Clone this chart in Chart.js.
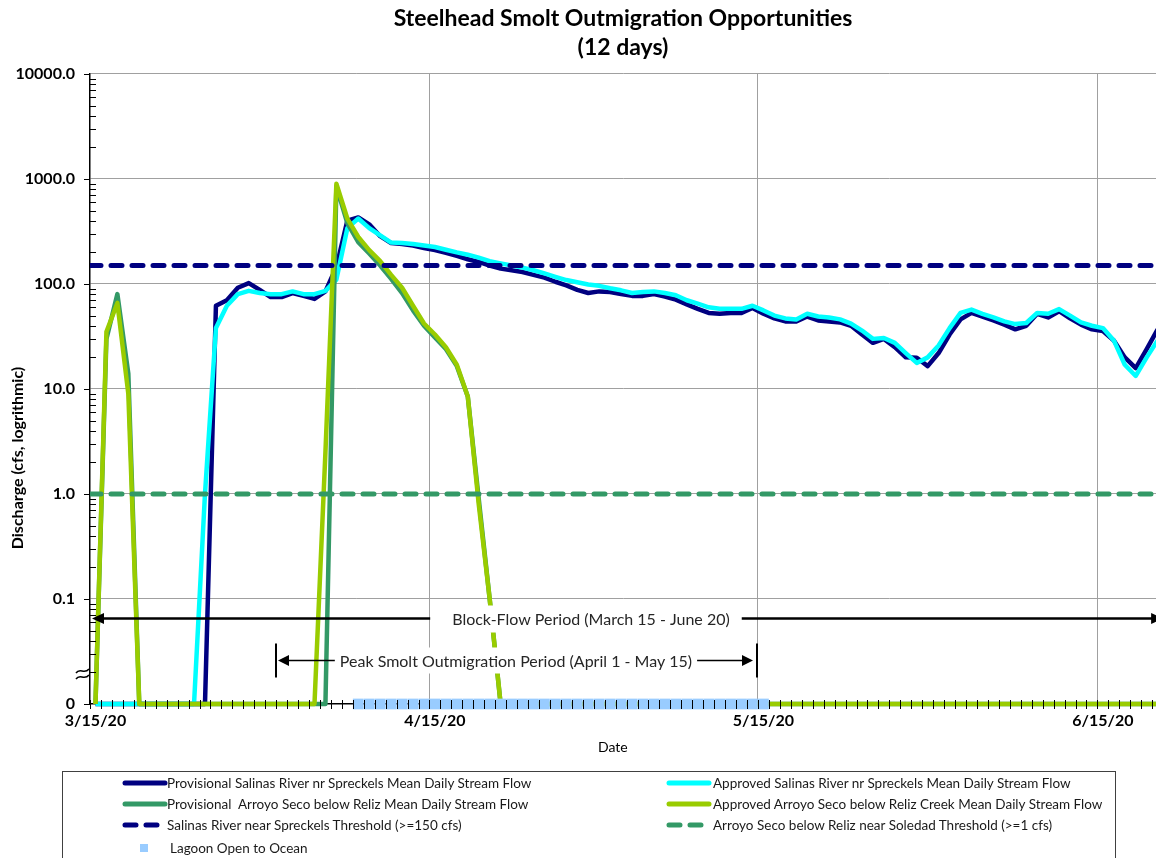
<!DOCTYPE html>
<html>
<head>
<meta charset="utf-8">
<title>Steelhead Smolt Outmigration Opportunities</title>
<script src="https://cdn.jsdelivr.net/npm/chart.js@4.4.1/dist/chart.umd.min.js"></script>
<style>
  body { margin: 0; background: #fff; }
  #wrap { position: relative; width: 1156px; height: 858px; overflow: hidden; background: #fff; }
  #chart { position: absolute; left: 0; top: 0; }
  #legendBox { position: absolute; left: 62px; top: 771px; width: 1054px; height: 120px; border: 1px solid #404040; box-sizing: border-box; }
  .lg { position: absolute; height: 16px; line-height: 16px; font: 13.5px Lato, sans-serif; color: #1a1a1a; white-space: pre; }
  .lg canvas { position: absolute; left: 0; top: 3px; }
  .lg span { position: absolute; top: 0; }
</style>
</head>
<body>
<div id="wrap">
  <canvas id="chart" width="1156" height="858"></canvas>
  <div id="legendBox"></div>
</div>
<script>
// daily values, one per day starting 3/15/20 (index 0) through 6/20/20 (index 97)
var provSalinas = [
  0, 0, 0, 0, 0, 0, 0, 0, 0, 0,
  0, 62, 70, 92, 102, 88, 75, 75, 82, 77,
  72, 85, 145, 400, 430, 370, 285, 245, 240, 232,
  220, 210, 198, 185, 172, 162, 150, 140, 135, 130,
  122, 115, 105, 97, 88, 82, 85, 84, 80, 77,
  77, 80, 76, 71, 64, 58, 53, 52, 53, 53,
  59, 52, 47, 44, 44, 49, 45, 44, 43, 40,
  33, 27.5, 30, 25, 20, 19.8, 16.5, 22, 33, 46,
  53, 49, 45, 41, 37, 40, 52, 48, 55, 47,
  41, 37, 35.6, 29, 20, 15.8, 24, 37
];
var apprSalinas = [
  0, 0, 0, 0, 0, 0, 0, 0, 0, 0,
  1.0, 38, 62, 80, 86, 82, 80, 80, 85, 80,
  80, 86, 110, 340, 420, 340, 290, 248, 245, 240,
  232, 225, 212, 200, 190, 178, 165, 157, 150, 143,
  135, 126, 117, 109, 104, 99, 96, 91, 87, 82,
  84, 85, 82, 78, 70, 65, 60, 58, 58, 58,
  62, 56, 50, 47, 46, 52, 49, 48, 46, 42,
  36, 30, 30.6, 27.5, 22, 17.7, 20, 26, 38, 53,
  57, 52, 48, 44, 41.5, 42.5, 53, 52, 57.6, 50,
  43, 40, 38, 29, 17, 13.3, 20, 29
];
var provArroyo = [
  0, 30, 80, 14, 0, 0, 0, 0, 0, 0,
  0, 0, 0, 0, 0, 0, 0, 0, 0, 0,
  0, 0, 850, 380, 250, 195, 150, 112, 82, 56,
  40, 31, 24, 16.5, 8.5, 0.9, 0.1, 0, 0, 0,
  0, 0, 0, 0, 0, 0, 0, 0, 0, 0,
  0, 0, 0, 0, 0, 0, 0, 0, 0, 0,
  0, 0, 0, 0, 0, 0, 0, 0, 0, 0,
  0, 0, 0, 0, 0, 0, 0, 0, 0, 0,
  0, 0, 0, 0, 0, 0, 0, 0, 0, 0,
  0, 0, 0, 0, 0, 0, 0, 0
];
var apprArroyo = [
  0, 35, 66, 9, 0, 0, 0, 0, 0, 0,
  0, 0, 0, 0, 0, 0, 0, 0, 0, 0,
  0, 2.5, 900, 420, 280, 210, 165, 122, 92, 62,
  42, 33, 25, 17, 8.5, 0.8, 0.1, 0, 0, 0,
  0, 0, 0, 0, 0, 0, 0, 0, 0, 0,
  0, 0, 0, 0, 0, 0, 0, 0, 0, 0,
  0, 0, 0, 0, 0, 0, 0, 0, 0, 0,
  0, 0, 0, 0, 0, 0, 0, 0, 0, 0,
  0, 0, 0, 0, 0, 0, 0, 0, 0, 0,
  0, 0, 0, 0, 0, 0, 0, 0
];
// 1 = lagoon open to ocean that day
var lagoonOpen = [
  0, 0, 0, 0, 0, 0, 0, 0, 0, 0,
  0, 0, 0, 0, 0, 0, 0, 0, 0, 0,
  0, 0, 0, 0, 1, 1, 1, 1, 1, 1,
  1, 1, 1, 1, 1, 1, 1, 1, 1, 1,
  1, 1, 1, 1, 1, 1, 1, 1, 1, 1,
  1, 1, 1, 1, 1, 1, 1, 1, 1, 1,
  1, 1, 0, 0, 0, 0, 0, 0, 0, 0,
  0, 0, 0, 0, 0, 0, 0, 0, 0, 0,
  0, 0, 0, 0, 0, 0, 0, 0, 0, 0,
  0, 0, 0, 0, 0, 0, 0, 0
];
var salinasThreshold = 150;
var arroyoThreshold = 1;

// date axis: day offsets from 3/15/20 and their labels
var tickDays = [0, 31, 61, 92];
var tickLabels = ['3/15/20', '4/15/20', '5/15/20', '6/15/20'];
var peakStartDay = 17;   // April 1
var peakEndDay = 61;     // May 15
var lastDay = 98;        // end of June 20

var ZERO = 0.01;         // where "0" sits on the log axis
var xMax = 97.35;
var FONT = 'Lato';

function toPoints(arr) {
  return arr.map(function(v, i) { return { x: i + 0.5, y: v === 0 ? ZERO : v }; });
}
function isDecade(v) {
  var l = Math.log10(v);
  return Math.abs(l - Math.round(l)) < 1e-6;
}

var yTicks = [];
for (var k = -2; k <= 3; k++) {
  for (var m = 1; m <= 9; m++) yTicks.push(+(m * Math.pow(10, k)).toPrecision(3));
}
yTicks.push(10000);
var dayTicks = [];
for (var d = 0; d <= Math.floor(xMax); d++) dayTicks.push(d);

var datasets = [
  { label: 'Lagoon Open to Ocean', order: 0,
    data: lagoonOpen.map(function(v, i) { return { x: i + 0.5, y: v ? ZERO : null }; }),
    showLine: false, pointStyle: 'rect', pointRadius: 7.6, pointBackgroundColor: '#99CCFF',
    pointBorderWidth: 0, borderColor: '#99CCFF', backgroundColor: '#99CCFF', clip: 10 },
  { label: 'Salinas River near Spreckels Threshold (>=150 cfs)', order: 1,
    data: [{ x: 0, y: salinasThreshold }, { x: xMax, y: salinasThreshold }],
    borderColor: '#000080', borderWidth: 5, borderDash: [11, 10], borderCapStyle: 'round',
    pointRadius: 0, dash: true },
  { label: 'Arroyo Seco below Reliz near Soledad Threshold (>=1 cfs)', order: 2,
    data: [{ x: 0, y: arroyoThreshold }, { x: xMax, y: arroyoThreshold }],
    borderColor: '#339966', borderWidth: 5, borderDash: [11, 10], borderCapStyle: 'round',
    pointRadius: 0, dash: true },
  { label: 'Approved Arroyo Seco below Reliz Creek Mean Daily Stream Flow', order: 3,
    data: toPoints(apprArroyo), borderColor: '#99CC00', borderWidth: 4.5, pointRadius: 0, clip: 10 },
  { label: 'Provisional  Arroyo Seco below Reliz Mean Daily Stream Flow', order: 4,
    data: toPoints(provArroyo), borderColor: '#339966', borderWidth: 4.5, pointRadius: 0, clip: 10 },
  { label: 'Approved Salinas River nr Spreckels Mean Daily Stream Flow', order: 5,
    data: toPoints(apprSalinas), borderColor: '#00FFFF', borderWidth: 4.5, pointRadius: 0, clip: 10 },
  { label: 'Provisional Salinas River nr Spreckels Mean Daily Stream Flow', order: 6,
    data: toPoints(provSalinas), borderColor: '#000080', borderWidth: 4.5, pointRadius: 0, clip: 10 }
];
datasets.forEach(function(ds) { ds.tension = 0; ds.borderJoinStyle = 'round'; ds.fill = false; });

function arrowHead(ctx, tipX, yy, dir, len, half) {
  ctx.beginPath();
  ctx.moveTo(tipX, yy);
  ctx.lineTo(tipX + dir * len, yy - half);
  ctx.lineTo(tipX + dir * len, yy + half);
  ctx.closePath();
  ctx.fill();
}

var overlay = {
  id: 'overlay',
  afterDatasetsDraw: function(chart) {
    var ctx = chart.ctx, a = chart.chartArea, x = chart.scales.x, y = chart.scales.y;
    ctx.save();
    // axis tick marks
    ctx.strokeStyle = '#000';
    ctx.lineWidth = 1;
    ctx.beginPath();
    x.ticks.forEach(function(t) {
      var px = Math.round(x.getPixelForValue(t.value)) + 0.5;
      ctx.moveTo(px, a.bottom - 4);
      ctx.lineTo(px, a.bottom + 5);
    });
    y.ticks.forEach(function(t) {
      var py = Math.round(y.getPixelForValue(t.value)) + 0.5;
      if (isDecade(t.value)) { ctx.moveTo(a.left - 6, py); ctx.lineTo(a.left, py); }
      else { ctx.moveTo(a.left, py); ctx.lineTo(a.left + 6, py); }
    });
    ctx.stroke();

    // axis break symbol
    var yb = a.bottom - 30;
    ctx.lineWidth = 1.5;
    ctx.beginPath();
    [-3, 3].forEach(function(dy) {
      ctx.moveTo(a.left - 14, yb + dy + 2);
      ctx.bezierCurveTo(a.left - 10, yb + dy - 4, a.left - 6, yb + dy + 4, a.left - 1, yb + dy - 2);
    });
    ctx.stroke();

    ctx.fillStyle = '#000';
    ctx.strokeStyle = '#000';
    ctx.font = '16px ' + FONT;
    ctx.textAlign = 'center';
    ctx.textBaseline = 'middle';

    // Block-flow period arrow
    var by = Math.round(y.getPixelForValue(0.066)) + 0.5;
    var bx0 = x.getPixelForValue(0) + 2, bx1 = x.getPixelForValue(lastDay);
    ctx.lineWidth = 2.5;
    ctx.beginPath();
    ctx.moveTo(bx0 + 10, by); ctx.lineTo(bx1 - 10, by);
    ctx.stroke();
    arrowHead(ctx, bx0, by, 1, 12, 5.5);
    arrowHead(ctx, bx1, by, -1, 12, 5.5);
    var bText = 'Block-Flow Period (March 15 - June 20)';
    var bcx = x.getPixelForValue(45.75);
    var bw = ctx.measureText(bText).width;
    ctx.fillStyle = '#fff';
    ctx.fillRect(bcx - bw / 2 - 22, by - 13, bw + 34, 27);
    ctx.fillStyle = '#262626';
    ctx.fillText(bText, bcx, by + 1);

    // Peak smolt outmigration period
    ctx.fillStyle = '#000';
    var py = Math.round(y.getPixelForValue(0.026)) + 0.5;
    var sx = Math.round(x.getPixelForValue(peakStartDay)), ex = Math.round(x.getPixelForValue(peakEndDay)) - 1;
    ctx.lineWidth = 2;
    ctx.beginPath();
    ctx.moveTo(sx, py - 17); ctx.lineTo(sx, py + 17);
    ctx.moveTo(ex, py - 17); ctx.lineTo(ex, py + 17);
    ctx.stroke();
    ctx.lineWidth = 1.5;
    ctx.beginPath();
    ctx.moveTo(sx + 10, py); ctx.lineTo(ex - 12, py);
    ctx.stroke();
    arrowHead(ctx, sx + 2, py, 1, 11, 5.5);
    arrowHead(ctx, ex - 4, py, -1, 11, 5.5);
    var pText = 'Peak Smolt Outmigration Period (April 1 - May 15)';
    var pcx = x.getPixelForValue(38.9);
    var pw = ctx.measureText(pText).width;
    ctx.fillStyle = '#fff';
    ctx.fillRect(pcx - pw / 2 - 5, py - 13, pw + 10, 26);
    ctx.fillStyle = '#262626';
    ctx.fillText(pText, pcx, py + 1);

    // x axis title
    ctx.fillStyle = '#000';
    ctx.font = '14px ' + FONT;
    ctx.fillText('Date', x.getPixelForValue(47.75), a.bottom + 43);

    // y axis title
    ctx.font = 'bold 16px ' + FONT;
    ctx.translate(18, (a.top + a.bottom) / 2 + 69);
    ctx.rotate(-Math.PI / 2);
    ctx.fillText('Discharge (cfs, logrithmic)', 0, 0);
    ctx.restore();
  }
};

var gridGray = '#a0a0a0';
var clear = 'rgba(0,0,0,0)';

var chart = new Chart(document.getElementById('chart'), {
  type: 'line',
  data: { datasets: datasets },
  plugins: [overlay],
  options: {
    responsive: false,
    animation: false,
    events: [],
    layout: { autoPadding: false, padding: { left: 0, right: 0, top: 0, bottom: 93 } },
    plugins: {
      legend: { display: false },
      tooltip: { enabled: false },
      title: {
        display: true,
        text: ['Steelhead Smolt Outmigration Opportunities', '(12 days)'],
        fullSize: false,
        color: '#000',
        font: { family: FONT, size: 23, weight: 'bold', lineHeight: 1.26 },
        padding: { top: 4, bottom: 12 }
      }
    },
    scales: {
      x: {
        type: 'linear',
        min: 0,
        max: xMax,
        afterBuildTicks: function(s) { s.ticks = dayTicks.map(function(v) { return { value: v }; }); },
        afterFit: function(s) { s.height = 61; s.paddingLeft = 0; s.paddingRight = 0; },
        grid: {
          drawTicks: true,
          tickLength: 7,
          tickColor: clear,
          lineWidth: 1,
          color: function(c) { return c.tick && c.tick.value > 0 && tickDays.indexOf(c.tick.value) >= 0 ? gridGray : clear; }
        },
        border: { display: true, color: '#000', width: 1.5 },
        ticks: {
          autoSkip: false,
          maxRotation: 0,
          labelOffset: 5.5,
          padding: 0,
          color: '#000',
          font: { family: FONT, size: 16, weight: 'bold' },
          callback: function(v) { var i = tickDays.indexOf(v); return i >= 0 ? tickLabels[i] : ''; }
        }
      },
      y: {
        type: 'logarithmic',
        min: ZERO,
        max: 10000,
        afterBuildTicks: function(s) { s.ticks = yTicks.map(function(v) { return { value: v }; }); },
        afterFit: function(s) { s.width = 90; },
        grid: {
          drawTicks: false,
          lineWidth: 1,
          color: function(c) { return c.tick && c.tick.value > 0.011 && isDecade(c.tick.value) ? gridGray : clear; }
        },
        border: { display: true, color: '#000', width: 1.5 },
        ticks: {
          autoSkip: false,
          padding: 15,
          color: '#000',
          font: { family: FONT, size: 16, weight: 'bold' },
          callback: function(v) {
            if (!isDecade(v)) return '';
            return v <= ZERO ? '0' : v.toFixed(1);
          }
        }
      }
    }
  }
});

// legend, two columns like the original
var legendOrder = [
  'Provisional Salinas River nr Spreckels Mean Daily Stream Flow',
  'Approved Salinas River nr Spreckels Mean Daily Stream Flow',
  'Provisional  Arroyo Seco below Reliz Mean Daily Stream Flow',
  'Approved Arroyo Seco below Reliz Creek Mean Daily Stream Flow',
  'Salinas River near Spreckels Threshold (>=150 cfs)',
  'Arroyo Seco below Reliz near Soledad Threshold (>=1 cfs)',
  'Lagoon Open to Ocean'
];
var colX = [{ sw: 122, tx: 167 }, { sw: 666, tx: 713 }];
var rowY = [783, 804, 825, 848];
var wrap = document.getElementById('wrap');
legendOrder.forEach(function(label, i) {
  var ds = datasets.filter(function(d) { return d.label === label; })[0];
  var col = colX[i % 2], row = rowY[Math.floor(i / 2)];
  var item = document.createElement('div');
  item.className = 'lg';
  item.style.left = col.sw + 'px';
  item.style.top = (row - 8) + 'px';
  var c = document.createElement('canvas');
  c.width = 46; c.height = 10;
  var g = c.getContext('2d');
  var txt = document.createElement('span');
  txt.textContent = label;
  if (ds.showLine === false) {
    g.fillStyle = ds.pointBackgroundColor;
    g.fillRect(18, 1, 8, 8);
    txt.style.left = (col.tx - col.sw + 3) + 'px';
  } else {
    g.strokeStyle = ds.borderColor;
    g.lineWidth = 5;
    g.lineCap = 'round';
    if (ds.dash) g.setLineDash([11, 10]);
    g.beginPath(); g.moveTo(3, 5); g.lineTo(43, 5); g.stroke();
    txt.style.left = (col.tx - col.sw) + 'px';
  }
  item.appendChild(c);
  item.appendChild(txt);
  wrap.appendChild(item);
});
</script>
</body>
</html>
